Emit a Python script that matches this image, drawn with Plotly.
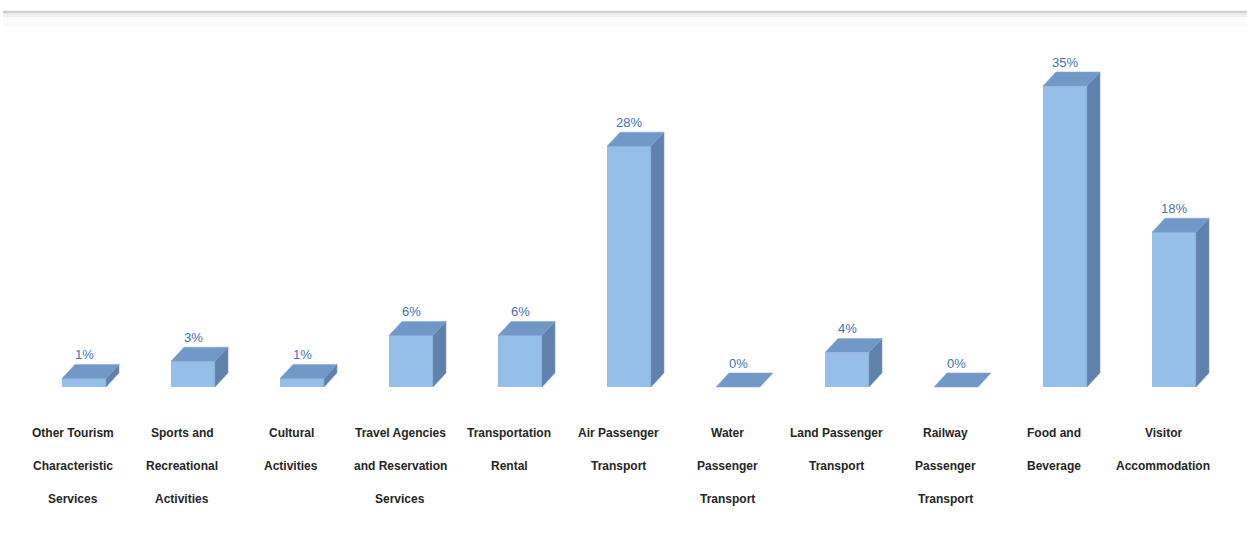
import plotly.graph_objects as go

# Share of tourism-related spending by industry (%)
categories = [
    "Other Tourism<br>Characteristic<br>Services",
    "Sports and<br>Recreational<br>Activities",
    "Cultural<br>Activities",
    "Travel Agencies<br>and Reservation<br>Services",
    "Transportation<br>Rental",
    "Air Passenger<br>Transport",
    "Water<br>Passenger<br>Transport",
    "Land Passenger<br>Transport",
    "Railway<br>Passenger<br>Transport",
    "Food and<br>Beverage",
    "Visitor<br>Accommodation",
]
shares = [1, 3, 1, 6, 6, 28, 0, 4, 0, 35, 18]
share_labels = ["1%", "3%", "1%", "6%", "6%", "28%", "0%", "4%", "0%", "35%", "18%"]

W, H = 1247, 560
PX_X = 109.0           # pixels per category slot
PX_Y = 8.6             # pixels per percentage point
BASE_PX = 387          # pixel row of the zero line
X0 = -84 / PX_X
XR = [X0, X0 + W / PX_X]
YR = [-(H - BASE_PX) / PX_Y, BASE_PX / PX_Y]

bar_w = 44 / PX_X
depth_x = 13 / PX_X
depth_y = 14 / PX_Y

FRONT = "#95BEE8"
TOP = "#7198C6"
SIDE = "#5F81AC"
LABEL_BLUE = "#3F72B8"
TEXT = "#262626"

xs = list(range(len(categories)))

fig = go.Figure()

# front faces
fig.add_trace(go.Bar(
    x=xs, y=shares, width=bar_w,
    marker=dict(color=FRONT, line=dict(width=0)),
    hoverinfo="skip", showlegend=False,
))

# top and side faces for the 3-D look
for x, v in zip(xs, shares):
    l, r = x - bar_w / 2, x + bar_w / 2
    fig.add_trace(go.Scatter(
        x=[l, r, r + depth_x, l + depth_x, l],
        y=[v, v, v + depth_y, v + depth_y, v],
        fill="toself", fillcolor=TOP, mode="lines",
        line=dict(width=0.6, color="#8AA9D2"),
        hoverinfo="skip", showlegend=False,
    ))
    if v > 0:
        fig.add_trace(go.Scatter(
            x=[r, r + depth_x, r + depth_x, r, r],
            y=[0, depth_y, v + depth_y, v, 0],
            fill="toself", fillcolor=SIDE, mode="lines",
            line=dict(width=0.6, color="#7E9CC4"),
            hoverinfo="skip", showlegend=False,
        ))

annotations = []
# value labels above each bar
for x, v, t in zip(xs, shares, share_labels):
    annotations.append(dict(
        x=x, y=v, xref="x", yref="y", text=t, showarrow=False,
        yshift=14 + 10, yanchor="middle", xanchor="center",
        font=dict(family="Liberation Sans Narrow, Arial Narrow, sans-serif",
                  size=13, color=LABEL_BLUE),
    ))

# category labels, one annotation per line for wide line spacing
LINE_SHIFTS = [-46, -79, -112]
for x, c in zip(xs, categories):
    for k, line in enumerate(c.split("<br>")):
        annotations.append(dict(
            x=x, y=0, xref="x", yref="y", text=line, showarrow=False,
            xshift=-11, yshift=LINE_SHIFTS[k], yanchor="middle", xanchor="center",
            font=dict(family="Liberation Sans Narrow, Arial Narrow, sans-serif",
                      size=12, color=TEXT, weight="bold"),
        ))

def py(p):
    return 1 - p / H

shapes = [
    dict(type="rect", xref="paper", yref="paper", x0=3 / W, x1=1, y0=py(26), y1=py(13),
         fillcolor="#FBFBFB", line=dict(width=0), layer="below"),
    dict(type="rect", xref="paper", yref="paper", x0=3 / W, x1=1, y0=py(17), y1=py(13),
         fillcolor="#EFEFEF", line=dict(width=0), layer="below"),
    dict(type="line", xref="paper", yref="paper", x0=3 / W, x1=1, y0=py(12), y1=py(12),
         line=dict(color="#CFCFCF", width=2.5)),
]

fig.update_layout(
    width=W, height=H,
    margin=dict(l=0, r=0, t=0, b=0),
    paper_bgcolor="white", plot_bgcolor="white",
    xaxis=dict(range=XR, visible=False, fixedrange=True),
    yaxis=dict(range=YR, visible=False, fixedrange=True),
    annotations=annotations,
    shapes=shapes,
    bargap=0,
)

fig.write_html("out.html")
